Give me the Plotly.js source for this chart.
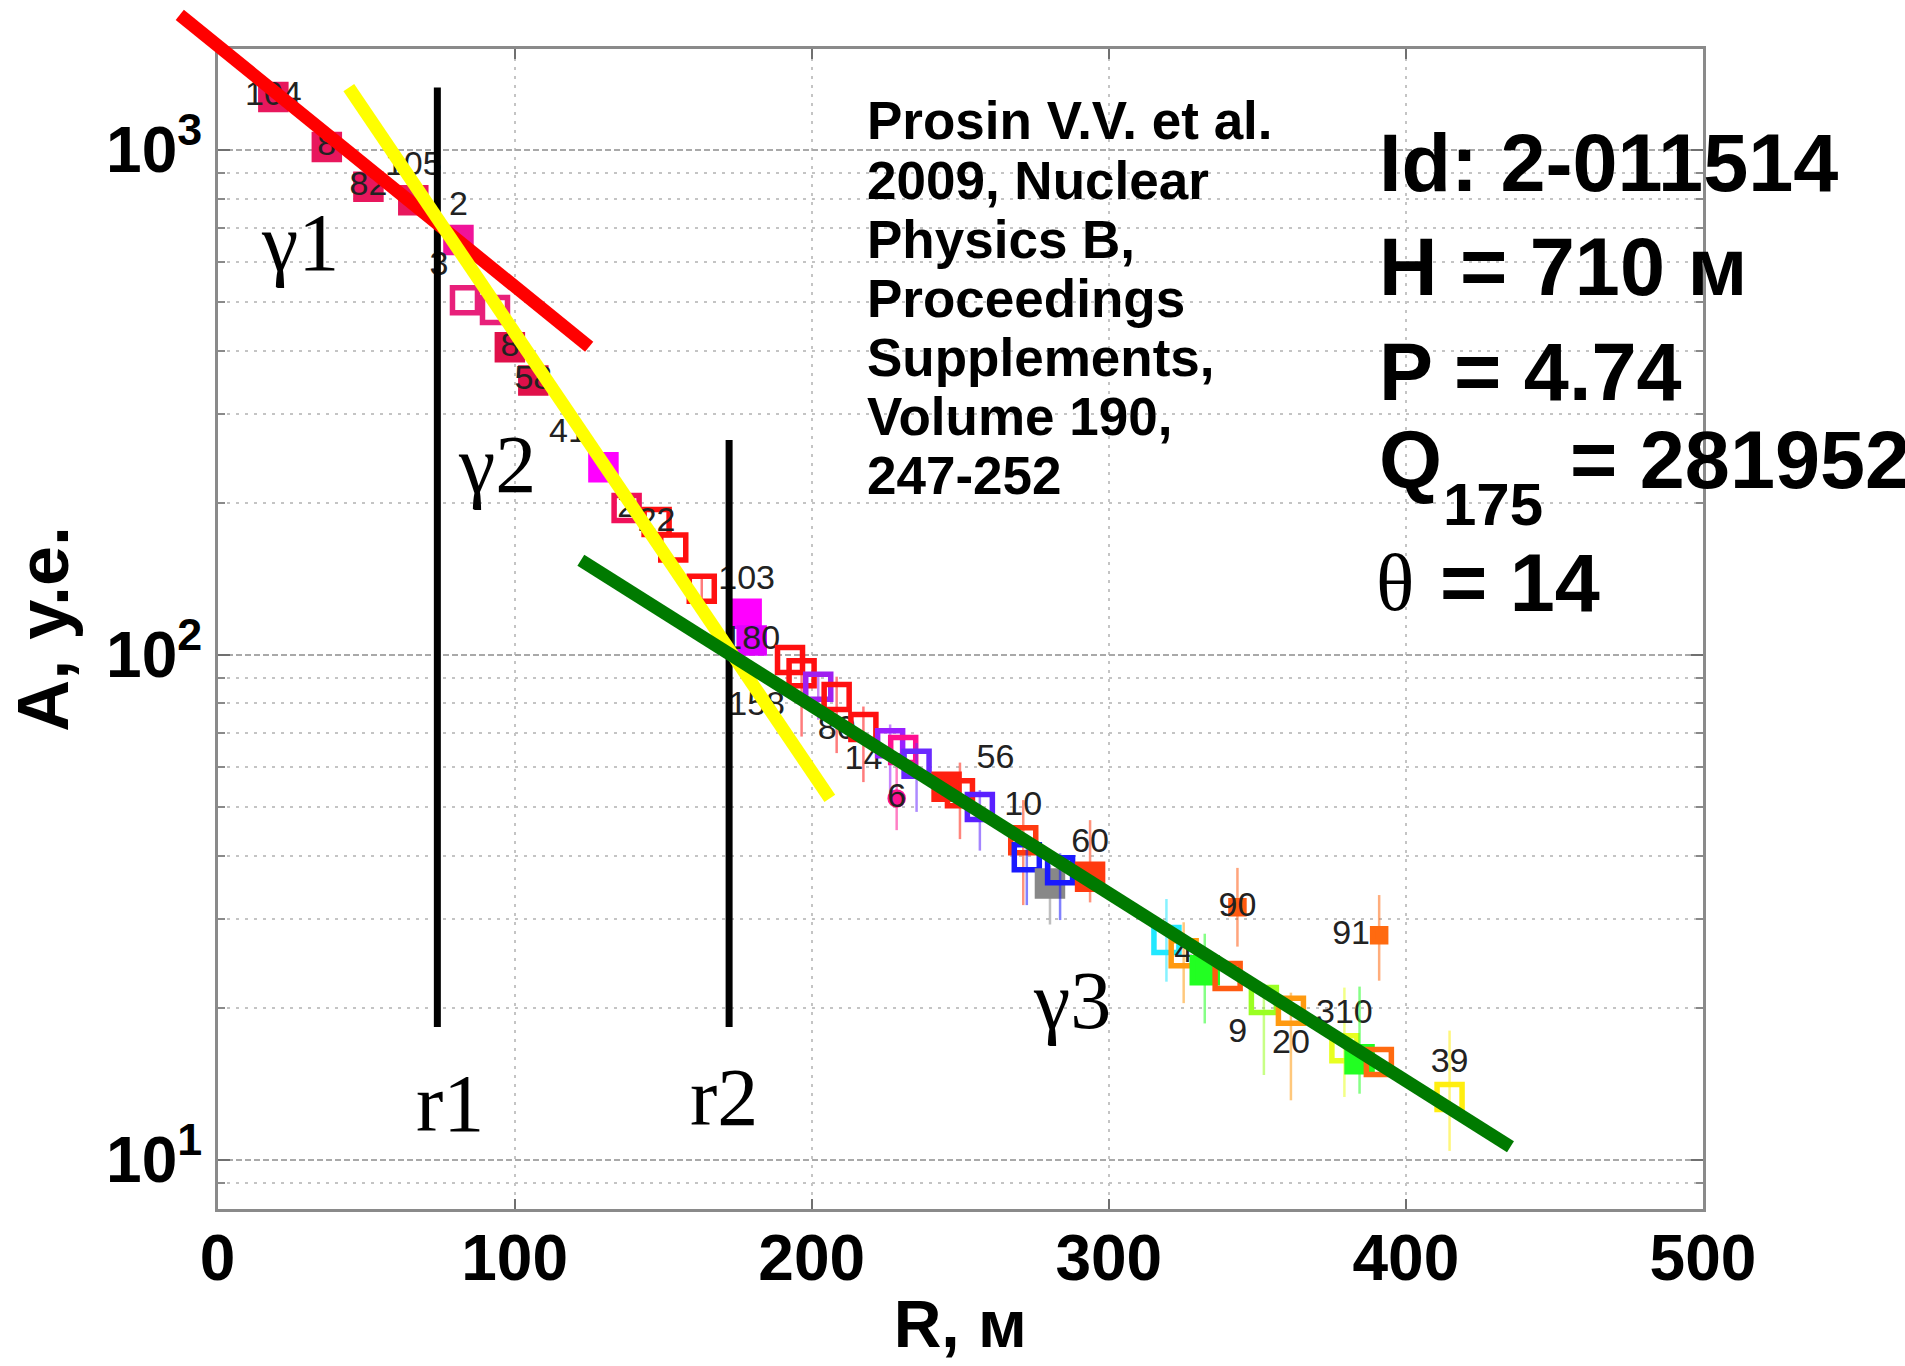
<!DOCTYPE html>
<html>
<head>
<meta charset="utf-8">
<script src="https://cdn.plot.ly/plotly-3.0.1.min.js"></script>
<style>
html,body{margin:0;padding:0;background:#ffffff;}
#chart{width:1905px;height:1366px;}
</style>
</head>
<body>
<div id="chart"></div>
<script>
// ---------------- data ----------------
const R = [18.8, 36.8, 50.8, 65.9, 81.1, 83.3, 93.4, 98.4, 106.3, 129.9,
           137.7, 147.8, 153.4, 163.0, 178.1, 179.8, 192.7, 196.6, 202.2, 208.4,
           217.4, 226.4, 230.8, 235.3, 228.6, 245.4, 249.9, 256.6, 271.2, 272.4,
           280.2, 283.6, 293.7, 319.4, 325.2, 332.3, 340.0, 343.3, 352.2, 361.3,
           379.3, 384.4, 390.9, 391.0, 414.7];
const A = [1271, 1012, 844, 794, 662, 503, 481, 406, 349, 235,
           195, 183, 163, 135, 120.5, 106.6, 97.5, 91.8, 86.3, 82.4,
           71.9, 66.7, 64.7, 60.8, 51.9, 54.7, 53.1, 49.9, 42.9, 39.7,
           35.2, 37.4, 36.3, 27.2, 25.6, 23.7, 23.1, 31.6, 20.7, 19.7,
           16.6, 15.8, 15.6, 27.8, 13.3];
const errPlus = [0, 0, 0, 0, 0, 0, 0, 0, 0, 0,
                 0, 0, 0, 8, 0, 0, 0, 8, 6, 8,
                 7, 6, 0, 6, 8, 0, 8, 4, 8.6, 3,
                 3, 3, 10.7, 5.6, 3.9, 4.3, 0, 6.2, 1.6, 1.7,
                 5.3, 6.2, 0, 5.6, 4.7];
const errMinus = [0, 0, 0, 0, 0, 0, 0, 0, 0, 0,
                  0, 0, 0, 14, 0, 0, 0, 23, 12, 18.6,
                  16, 14, 0, 12, 7, 0, 10, 9, 11, 7.8,
                  6, 7.6, 4, 4.7, 5.2, 5.1, 0, 5.2, 6, 6.6,
                  3.3, 2.3, 0, 5.2, 2.9];
const stationLabels = ['104', '8', '82', '105', '2', '3', '', '8', '58', '41',
                       '2', '22', '', '', '103', '180', '', '158', '', '80',
                       '14', '', '', '', '6', '', '56', '', '10', '',
                       '', '', '60', '', '4', '', '', '90', '9', '20',
                       '310', '', '', '91', '39'];

// fitted slopes and break radii
const fitRedR = [-12.7, 125.1],   fitRedA = [1848, 407];
const fitYellowR = [44.2, 206.1], fitYellowA = [1327, 51.9];
const fitGreenR = [122.3, 435.2], fitGreenA = [153.8, 10.6];
const r1R = [74.0, 74.0],   r1A = [18.3, 1327];
const r2R = [172.2, 172.2], r2A = [18.3, 266];

// axis ticks
const xTickVals = [0, 100, 200, 300, 400, 500];
const xTickText = ['0', '100', '200', '300', '400', '500'];
const yTickVals = [10, 100, 1000];
const yTickText = ['10<sup>1</sup>', '10<sup>2</sup>', '10<sup>3</sup>'];
const yMinorVals = [8, 9, 20, 30, 40, 50, 60, 70, 80, 90, 200, 300, 400, 500, 600, 700, 800, 900];

// ---------------- styles ----------------
const pointColor = ['#e8175d', '#e8175d', '#e8175d', '#e8175d', '#f0139a', '#e8207a', '#e8207a', '#e0104a', '#e0104a', '#ff00ff',
                    '#f0105a', '#ff1010', '#ff1010', '#ff1010', '#ff00ff', '#e000ff', '#ff1010', '#ff1010', '#a020f0', '#ff1010',
                    '#ff1010', '#9a20ff', '#ff1090', '#6a2aff', '#ff1493', '#ff2010', '#ff2010', '#5a20ff', '#ff3a10', '#1a1aff',
                    '#888888', '#1a1aff', '#ff3a10', '#22e8ff', '#ff9a10', '#22ff22', '#ff5a10', '#ff5a10', '#9aff22', '#ff9a10',
                    '#e8ff22', '#22ff22', '#ff6a10', '#ff6a10', '#ffee10'];
const pointFilled = [1,1,1,1,1,0,0,1,1,1, 0,0,0,0,1,1,0,0,0,0, 0,0,0,0,1,1,0,0,0,0, 1,0,1,0,0,1,0,1,0,0, 0,1,0,1,0];
const pointKind   = ['s','s','s','s','s','s','s','s','s','s', 's','s','s','s','s','s','s','s','s','s',
                     's','s','s','s','c','s','s','s','s','s', 's','s','s','s','s','s','s','t','s','s',
                     's','s','s','t','s'];
const labelPos = ['middle center','middle center','middle center','top center','top center','top left','middle center','middle center','middle center','top left',
                  'middle center','middle center','middle center','middle center','top center','middle center','middle center','bottom left','middle center','bottom center',
                  'bottom center','middle center','middle center','middle center','middle center','middle center','top right','middle center','top center','middle center',
                  'middle center','middle center','top center','middle center','middle center','middle center','middle center','middle center','bottom left','bottom center',
                  'top center','middle center','middle center','middle left','top center'];

const W = 1905, H = 1366;
const box = {l: 217.5, r: 1703, t: 48.6, b: 1209};
const xRange = [0, 500];
const yRange = [0.902, 3.2];
const xDom = [box.l / W, box.r / W];
const yDom = [1 - box.b / H, 1 - box.t / H];
const dx = (xRange[1] - xRange[0]) / (xDom[1] - xDom[0]);
const dy = (yRange[1] - yRange[0]) / (yDom[1] - yDom[0]);
const x2Range = [xRange[0] - xDom[0] * dx, xRange[0] + (1 - xDom[0]) * dx];
const y2Range = [yRange[0] - yDom[0] * dy, yRange[0] + (1 - yDom[0]) * dy];

function rgba(hex, a) {
  const n = parseInt(hex.slice(1), 16);
  return 'rgba(' + ((n >> 16) & 255) + ',' + ((n >> 8) & 255) + ',' + (n & 255) + ',' + a + ')';
}

const SANS = 'Liberation Sans, Arial, sans-serif';
const SERIF = 'Liberation Serif, Times New Roman, serif';

const traces = [];
for (let i = 0; i < R.length; i++) {
  const kind = pointKind[i];
  const small = kind !== 's';
  const sym = kind === 'c' ? 'circle' : (pointFilled[i] ? 'square' : 'square-open');
  const hasErr = errPlus[i] > 0 || errMinus[i] > 0;
  const hasLabel = stationLabels[i] !== '';
  const tr = {
    type: 'scatter', mode: hasLabel ? 'markers+text' : 'markers',
    x: [R[i]], y: [A[i]],
    marker: {symbol: sym, size: small ? 13 : 25, color: pointColor[i],
             line: {color: pointColor[i], width: 5.5}},
    error_y: {type: 'data', symmetric: false, array: [errPlus[i]], arrayminus: [errMinus[i]],
              visible: hasErr, color: rgba(pointColor[i], 0.55), thickness: 2.5, width: 0},
    showlegend: false, hoverinfo: 'skip', xaxis: 'x', yaxis: 'y'
  };
  if (hasLabel) {
    tr.text = [stationLabels[i]];
    tr.textposition = labelPos[i];
    tr.textfont = {family: SANS, size: 34, color: '#222222'};
  }
  traces.push(tr);
}

function overlayLine(xs, ys, color, width) {
  return {type: 'scatter', mode: 'lines', x: xs, y: ys, xaxis: 'x2', yaxis: 'y2',
          line: {color: color, width: width}, showlegend: false, hoverinfo: 'skip'};
}
traces.push(overlayLine(r1R, r1A, '#000000', 7));
traces.push(overlayLine(r2R, r2A, '#000000', 7));
traces.push(overlayLine(fitRedR, fitRedA, '#ff0000', 13));
traces.push(overlayLine(fitYellowR, fitYellowA, '#ffff00', 13));
traces.push(overlayLine(fitGreenR, fitGreenA, '#007a00', 13));

function ann(text, px, py, size, family, xanchor) {
  return {text: text, xref: 'paper', yref: 'paper', x: px / W, y: 1 - py / H,
          xanchor: xanchor || 'left', yanchor: 'middle', showarrow: false,
          font: {family: family, size: size, color: '#000000'}};
}

const refLines = ['Prosin V.V. et al.', '2009, Nuclear', 'Physics B,', 'Proceedings',
                  'Supplements,', 'Volume 190,', '247-252'];
const annotations = [];
refLines.forEach((t, i) => annotations.push(ann('<b>' + t + '</b>', 865, 121 + i * 59, 53, SANS)));
annotations.push(ann('<b>Id: 2-011514</b>', 1377, 163.5, 81, SANS));
annotations.push(ann('<b>H = 710 м</b>', 1377, 267, 81, SANS));
annotations.push(ann('<b>P = 4.74</b>', 1377, 372, 81, SANS));
annotations.push(ann('<b>Q</b>', 1377, 460.5, 81, SANS));
annotations.push(ann('<b>175</b>', 1441, 504, 60, SANS));
annotations.push(ann('<b>= 281952</b>', 1568, 460.5, 81, SANS));
annotations.push(ann('θ', 1374, 583, 80, SERIF));
annotations.push(ann('<b>= 14</b>', 1438, 583, 81, SANS));
annotations.push(ann('γ1', 300, 242, 82, SERIF, 'center'));
annotations.push(ann('γ2', 497, 465, 82, SERIF, 'center'));
annotations.push(ann('γ3', 1072, 1000, 82, SERIF, 'center'));
annotations.push(ann('r1', 450, 1103, 82, SERIF, 'center'));
annotations.push(ann('r2', 724, 1097, 82, SERIF, 'center'));

const gridMinor = '#c4c4c4';
const layout = {
  width: W, height: H,
  margin: {l: 0, r: 0, t: 0, b: 0, pad: 0},
  paper_bgcolor: '#ffffff', plot_bgcolor: 'rgba(0,0,0,0)',
  showlegend: false,
  xaxis: {
    domain: xDom, range: xRange, automargin: false, anchor: 'y',
    tickvals: xTickVals, ticktext: xTickText,
    tickfont: {family: SANS, size: 64, color: '#000000', weight: 'bold'},
    ticklabelstandoff: -8,
    ticks: 'inside', ticklen: 10, tickwidth: 2, tickcolor: '#707070',
    showline: true, linecolor: '#8a8a8a', linewidth: 2.5, mirror: 'ticks',
    showgrid: true, gridcolor: gridMinor, gridwidth: 2, griddash: '3px,6px',
    zeroline: false,
    title: {text: '<b>R, м</b>', font: {family: SANS, size: 66, color: '#000000'}, standoff: 8}
  },
  yaxis: {
    domain: yDom, type: 'log', range: yRange, automargin: false, anchor: 'x',
    tickvals: yTickVals, ticktext: yTickText,
    tickfont: {family: SANS, size: 64, color: '#000000', weight: 'bold'},
    ticks: 'inside', ticklen: 12, tickwidth: 2, tickcolor: '#707070',
    showline: true, linecolor: '#8a8a8a', linewidth: 2.5, mirror: 'ticks',
    showgrid: true, gridcolor: '#a9a9a9', gridwidth: 2, griddash: '6px,3px',
    zeroline: false,
    minor: {tickvals: yMinorVals, ticks: 'inside', ticklen: 7, tickcolor: '#8a8a8a',
            showgrid: true, gridcolor: gridMinor, gridwidth: 2, griddash: '3px,6px'},
    title: {text: '<b>A, у.е.</b>', font: {family: SANS, size: 72, color: '#000000'}, standoff: 14}
  },
  xaxis2: {domain: [0, 1], range: x2Range, visible: false, anchor: 'y2', fixedrange: true},
  yaxis2: {domain: [0, 1], type: 'log', range: y2Range, visible: false, anchor: 'x2', fixedrange: true},
  annotations: annotations
};

Plotly.newPlot('chart', traces, layout, {staticPlot: true, displayModeBar: false});
</script>
</body>
</html>
